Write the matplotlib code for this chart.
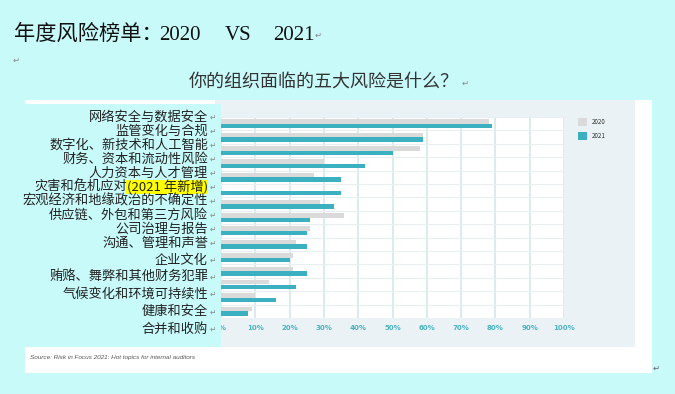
import matplotlib
matplotlib.use('Agg')

import matplotlib.pyplot as plt
import numpy as np
from matplotlib.patches import Rectangle

plt.rcParams['font.family'] = ['Noto Sans CJK SC', 'DejaVu Sans']

# 数据：各风险被列为前五大风险的比例（%）
risks = ['网络安全与数据安全', '监管变化与合规', '数字化、新技术和人工智能',
         '财务、资本和流动性风险', '人力资本与人才管理', '灾害和危机应对',
         '宏观经济和地缘政治的不确定性', '供应链、外包和第三方风险', '公司治理与报告',
         '沟通、管理和声誉', '企业文化', '贿赂、舞弊和其他财务犯罪',
         '气候变化和环境可持续性', '健康和安全', '合并和收购']
share_2020 = [78, 59, 58, 30, 27, np.nan, 29, 36, 26, 22, 21, 21, 14, 10, 9]
share_2021 = [79, 59, 50, 42, 35, 35, 33, 26, 25, 25, 20, 25, 22, 16, 8]
new_tag = '(2021 年新增)'
new_index = 5
x_ticks = list(range(0, 101, 10))

W, H = 675, 394
BG = '#C8FAFA'


def fx(px):
    return px / W


def fy(py):
    return 1 - py / H


def box(x0, y0, x1, y1, color, z):
    fig.add_artist(Rectangle((fx(x0), fy(y1)), fx(x1) - fx(x0), (y1 - y0) / H,
                             transform=fig.transFigure, fc=color, ec='none', zorder=z))


fig = plt.figure(figsize=(W / 100, H / 100), dpi=100, facecolor=BG)

# 图片底板
box(25, 100, 652, 373, 'white', -3)
box(215, 100, 635, 347, '#EAF2F5', -2)

ax = fig.add_axes([fx(221), fy(318), fx(564) - fx(221), (318 - 117) / H])
ax.set_facecolor('white')
y = np.arange(len(risks))
ax.barh(y - 0.17, share_2020, height=0.34, color='#DADADA', label='2020')
ax.barh(y + 0.17, share_2021, height=0.34, color='#3AB0C0', label='2021')
ax.set_xlim(0, 100)
ax.set_ylim(len(risks) - 0.5, -0.5)
ax.set_xticks(x_ticks)
ax.set_xticklabels([f'{v}%' for v in x_ticks])
ax.set_yticks([])
ax.set_yticks(np.arange(-0.5, len(risks), 1), minor=True)
ax.tick_params(axis='x', length=0, pad=5, labelsize=5, labelcolor='#4BB3C1')
ax.tick_params(axis='y', which='minor', length=0)
for lab in ax.get_xticklabels():
    lab.set_fontweight('bold')
    lab.set_family(['DejaVu Sans'])
ax.grid(axis='x', color='#D3E8EC', linewidth=1.2)
ax.grid(axis='y', which='minor', color='#E9EEF0', linewidth=0.8)
ax.set_axisbelow(True)
for s in ax.spines.values():
    s.set_visible(False)

fig.legend(loc='upper left', bbox_to_anchor=(fx(572), fy(112)), frameon=False,
           fontsize=4.5, handlelength=1.5, handleheight=1.6, handletextpad=0.8,
           labelspacing=1.0, labelcolor='#333333')

# 左侧标签文本框（盖住 0% 的 "0"）
box(25, 104, 220.5, 347, BG, 2)

label_py = np.where(y < 10, 117 + 14 * y, 243 + 17.2 * (y - 9))
renderer = fig.canvas.get_renderer()
for i, name in enumerate(risks):
    ty = fy(label_py[i])
    if i == new_index:
        tag = fig.text(fx(208), ty, new_tag, ha='right', va='center', fontsize=9.5,
                       color='#222222', zorder=4,
                       bbox=dict(fc='#FFFF00', ec='none', pad=0.3))
        x0 = tag.get_window_extent(renderer).x0
        fig.text(x0 / (fig.dpi * fig.get_figwidth()), ty, name, ha='right', va='center',
                 fontsize=9.5, color='#222222', zorder=4)
    else:
        fig.text(fx(208), ty, name, ha='right', va='center', fontsize=9.5,
                 color='#222222', zorder=4)
    fig.text(fx(210), ty, '↵', ha='left', va='center', fontsize=5.5,
             color='#888888', family=['DejaVu Sans'], zorder=4)

# 标题
fig.text(fx(14), fy(40), '年度风险榜单：', fontsize=15.3, color='#111111', va='baseline')
for txt, px in [('2020', 159), ('VS', 225), ('2021', 273)]:
    fig.text(fx(px), fy(40), txt, fontsize=15, color='#111111', va='baseline',
             family=['Liberation Serif'])
fig.text(fx(315), fy(38), '↵', fontsize=6, color='#888888', family=['DejaVu Sans'])
fig.text(fx(13), fy(60), '↵', fontsize=6, color='#888888', family=['DejaVu Sans'], va='center')

fig.text(fx(324), fy(82), '你的组织面临的五大风险是什么？', fontsize=13, color='#333333',
         ha='center', va='center')
fig.text(fx(462), fy(83), '↵', fontsize=6, color='#888888', family=['DejaVu Sans'], va='center')

fig.text(fx(30), fy(357), 'Source: Risk in Focus 2021: Hot topics for internal auditors',
         fontsize=4.6, style='italic', color='#555555', family=['Liberation Sans'],
         va='center')
fig.text(fx(653), fy(368), '↵', fontsize=6, color='#666666', family=['DejaVu Sans'], va='center')

fig.savefig('out.png', dpi=100, facecolor=BG)
